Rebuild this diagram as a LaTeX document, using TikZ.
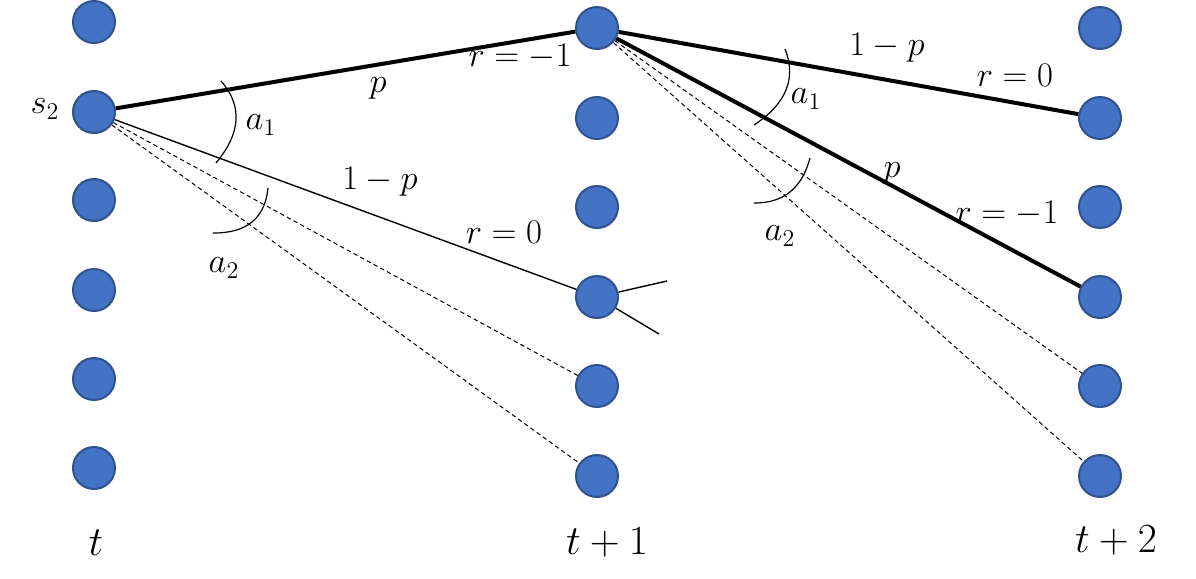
\documentclass[tikz,border=0pt]{standalone}
\usepackage{amsmath}
\definecolor{dotfill}{HTML}{4472C4}
\definecolor{dotline}{HTML}{2F528F}
\begin{document}
\begin{tikzpicture}[x=0.5pt,y=-0.5pt,
  state/.style={circle,fill=dotfill,draw=dotline,line width=1pt,minimum size=21pt,inner sep=0pt},
  lbl/.style={inner sep=0pt,font=\fontsize{18}{21}\selectfont},
  biglbl/.style={inner sep=0pt,font=\fontsize{22}{26}\selectfont},
  thickedge/.style={line width=2pt},
  thinedge/.style={line width=0.7pt},
  dashedge/.style={line width=0.5pt,dash pattern=on 2.2pt off 1.6pt},
  arcline/.style={line width=0.6pt}]
\useasboundingbox (0,0) rectangle (1196,579);
% column t
\foreach \i/\y in {1/22,2/112,3/200,4/290,5/379,6/468}
  \node[state] (a\i) at (94,\y) {};
% column t+1
\foreach \i/\y in {1/28,2/118,3/207,4/297,5/386,6/476}
  \node[state] (b\i) at (597,\y) {};
% column t+2
\foreach \i/\y in {1/28,2/118,3/207,4/297,5/386,6/476}
  \node[state] (c\i) at (1100,\y) {};
% edges from s2
\draw[thickedge] (a2) -- (b1);
\draw[thinedge] (a2) -- (b4);
\draw[dashedge] (a2) -- (b5);
\draw[dashedge] (a2) -- (b6);
% stubs
\coordinate (s1) at (667,281);
\coordinate (s2) at (659,334);
\draw[thinedge] (b4) -- (s1);
\draw[thinedge] (b4) -- (s2);
% edges from b1
\draw[thickedge] (b1) -- (c2);
\draw[thickedge] (b1) -- (c4);
\draw[dashedge] (b1) -- (c5);
\draw[dashedge] (b1) -- (c6);
% arcs
\draw[arcline] (221,81) .. controls (242.7,105.7) and (241,133) .. (216,163);
\draw[arcline] (268,188) .. controls (265,218.3) and (246.7,233.3) .. (213,233);
\draw[arcline] (785,49) .. controls (796.7,78.3) and (786.3,103.7) .. (754,125);
\draw[arcline] (810,158) .. controls (802,188.3) and (783.3,203.3) .. (754,203);
% labels
\node[lbl] (ls) at (45,109) {$s_2$};
\node[lbl] (la1) at (261,125) {$a_1$};
\node[lbl] (la2) at (224,268) {$a_2$};
\node[lbl] (lp) at (378,88) {$p$};
\node[lbl] (lr1) at (520,57) {$r=-1$};
\node[lbl] (lq) at (380,182) {$1-p$};
\node[lbl] (lr0) at (504,232) {$r=0$};
\node[lbl] (lb1) at (806,99) {$a_1$};
\node[lbl] (lb2) at (780,236) {$a_2$};
\node[lbl] (lq2) at (887,48) {$1-p$};
\node[lbl] (lr02) at (1015,75) {$r=0$};
\node[lbl] (lp2) at (892,173) {$p$};
\node[lbl] (lr12) at (1007,214) {$r=-1$};
\node[biglbl] (lt0) at (96,543) {$t$};
\node[biglbl] (lt1) at (607,542) {$t+1$};
\node[biglbl] (lt2) at (1116,540) {$t+2$};
\end{tikzpicture}
\end{document}
